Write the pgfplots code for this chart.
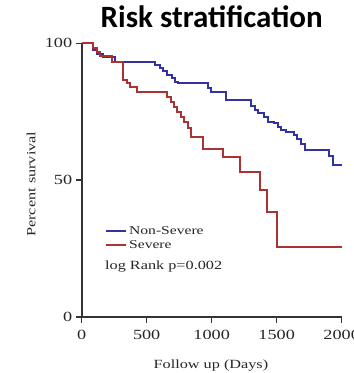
\documentclass[border=0pt]{standalone}
\usepackage{fontspec}
\setmainfont{Liberation Serif}[FakeStretch=1.3]
\newfontfamily\titlefont{Carlito}
\usepackage{pgfplots}
\pgfplotsset{compat=1.18}
\definecolor{kmblue}{RGB}{50,50,165}
\definecolor{kmred}{RGB}{170,50,50}
\begin{document}
\begin{tikzpicture}
\path[use as bounding box] (-81.7pt,-56.3pt) rectangle (272.3pt,316.7pt);
\begin{axis}[
  at={(0pt,0pt)}, anchor=south west,
  scale only axis, width=260pt, height=273.4pt,
  xmin=0, xmax=2000, ymin=0, ymax=100,
  axis lines=left, axis line style={-, line width=2pt, black!80},
  xtick={0,500,1000,1500,2000}, ytick={0,50,100},
  xticklabels={0,500,1000,1500,2000}, yticklabels={0,50,100},
  tick align=outside, major tick length=6pt,
  tick style={line width=1.6pt, black!80},
  tick label style={font=\fontsize{14}{15}\selectfont, black!85},
  xticklabel style={yshift=-4pt},
  xlabel={Follow up (Days)}, ylabel={Percent survival},
  every axis x label/.style={at={(axis description cs:0.497,-0.177)}, anchor=center},
  every axis y label/.style={at={(axis description cs:-0.195,0.485)}, anchor=center, rotate=90},
  label style={font=\fontsize{12.5}{13}\selectfont, black!85},
  legend style={at={(axis cs:179,33.9)}, anchor=north west, draw=none, fill=none,
    inner sep=0pt, font=\fontsize{12}{13}\selectfont, text=black!85, row sep=1pt},
  legend cell align=left,
  legend image code/.code={\draw[#1] (0pt,0pt) -- (20pt,0pt);},
  clip=false,
]
\addplot[const plot, kmblue, line width=2pt] coordinates {
(0,100)(89,97.5)(115,96.1)(167,95.0)(256,93.1)(564,92.1)(603,90.9)(628,89.7)(654,88.5)(692,87.3)(718,86.0)(744,85.4)(975,83.6)(995,82.3)(1110,79.3)(1305,77.0)(1330,75.6)(1360,74.4)(1400,73.2)(1430,71.3)(1480,70.7)(1510,69.5)(1535,68.3)(1570,67.7)(1630,66.5)(1655,64.9)(1685,63.0)(1720,61.0)(1900,58.6)(1930,55.6)(2000,55.6)};
\addlegendentry{Non-Severe}
\addplot[const plot, kmred, line width=2pt] coordinates {
(0,100)(89,98.2)(115,96.9)(141,95.4)(231,93.3)(320,86.6)(346,85.3)(372,84.1)(423,82.3)(660,80.5)(685,78.7)(710,76.8)(736,75.0)(762,73.2)(788,71.3)(814,68.9)(840,65.8)(930,61.5)(1085,58.4)(1218,53.0)(1372,46.3)(1423,38.4)(1500,25.6)(2000,25.6)};
\addlegendentry{Severe}
\node[anchor=west, font=\fontsize{12.5}{13}\selectfont, black!85, inner sep=0pt] at (axis cs:179,18.3) {log Rank p=0.002};
\end{axis}
\node[anchor=base, font=\titlefont\bfseries\fontsize{31}{32}\selectfont] at (130pt,289.4pt) {Risk stratification};
\end{tikzpicture}
\end{document}
